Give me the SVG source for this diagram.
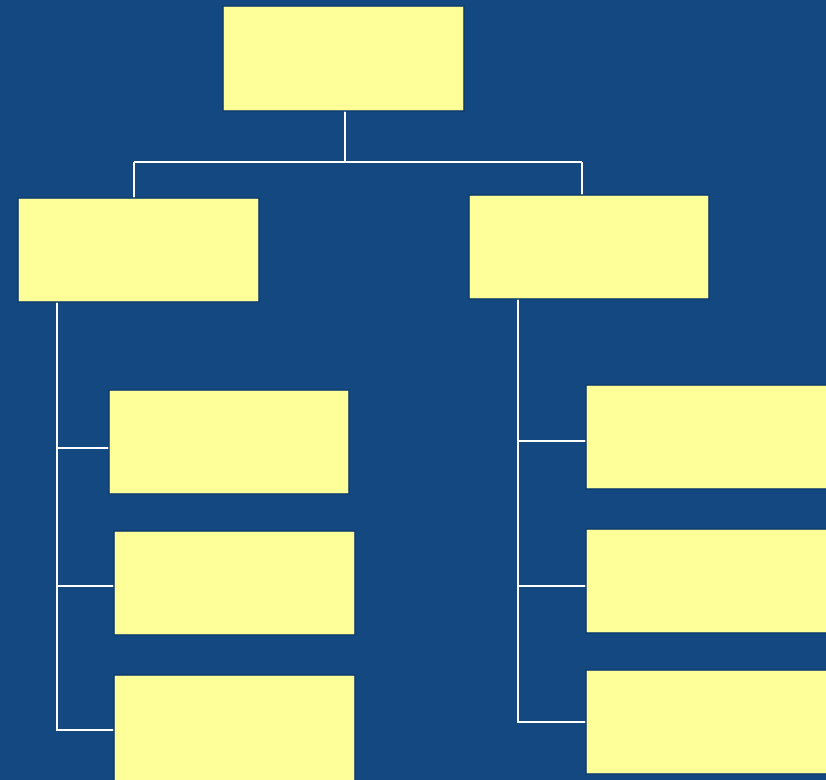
<svg xmlns="http://www.w3.org/2000/svg" width="826" height="780" viewBox="0 0 826 780">
<style>
.box{fill:#FFFF99;stroke:#0E3B6E;stroke-width:1.5}
.c{fill:none;stroke:#FFFFFF;stroke-width:2}
</style>
<rect x="0" y="0" width="826" height="780" fill="#134881"/>
<g id="connectors">
<path class="c" d="M345,111 V162 M134,162 H582 M134,162 V198 M582,162 V195"/>
<path class="c" d="M57,302 V730 H114 M57,448 H109 M57,586 H114"/>
<path class="c" d="M518,299 V722 H586 M518,441 H586 M518,586 H586"/>
</g>
<g id="n0"><rect class="box" x="223" y="6" width="241" height="105"/></g>
<g id="n1"><rect class="box" x="18" y="198" width="241" height="104"/></g>
<g id="n2"><rect class="box" x="469" y="195" width="240" height="104"/></g>
<g id="n3"><rect class="box" x="109" y="390" width="240" height="104"/></g>
<g id="n4"><rect class="box" x="114" y="531" width="241" height="104"/></g>
<g id="n5"><rect class="box" x="114" y="675" width="241" height="110"/></g>
<g id="n6"><rect class="box" x="586" y="385" width="245" height="104"/></g>
<g id="n7"><rect class="box" x="586" y="529" width="245" height="104"/></g>
<g id="n8"><rect class="box" x="586" y="670" width="245" height="104"/></g>
</svg>
